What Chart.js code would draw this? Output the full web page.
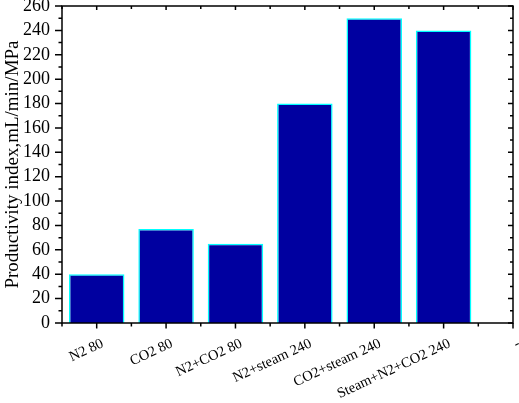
<!DOCTYPE html>
<html><head><meta charset="utf-8">
<script src="https://cdn.jsdelivr.net/npm/chart.js@4/dist/chart.umd.min.js"></script>
<style>html,body{margin:0;padding:0;background:#fff}#wrap{width:519px;height:403px}</style>
</head><body><div id="wrap"><canvas id="c" width="519" height="403"></canvas></div>
<script>
const categories = ['N2 80', 'CO2 80', 'N2+CO2 80', 'N2+steam 240', 'CO2+steam 240', 'Steam+N2+CO2 240', '-'];
const values = [40, 77, 65, 180, 250, 240];
const yTicks = [0, 20, 40, 60, 80, 100, 120, 140, 160, 180, 200, 220, 240, 260];
const yTitle = 'Productivity index,mL/min/MPa';

const FONT = "'Liberation Serif', 'Times New Roman', serif";

const framePlugin = {
  id: 'frame',
  afterDatasetsDraw(chart) {
    const { ctx, chartArea: a, scales: { x, y } } = chart;
    ctx.save();
    ctx.strokeStyle = '#000';
    ctx.lineWidth = 1.5;
    ctx.beginPath();
    yTicks.forEach((v, i) => {
      const py = y.getPixelForValue(v);
      ctx.moveTo(a.left, py); ctx.lineTo(a.left - 7, py);
      ctx.moveTo(a.right, py); ctx.lineTo(a.right - 5, py);
      if (i < yTicks.length - 1) {
        const pm = y.getPixelForValue((v + yTicks[i + 1]) / 2);
        ctx.moveTo(a.left, pm); ctx.lineTo(a.left - 3.5, pm);
        ctx.moveTo(a.right, pm); ctx.lineTo(a.right - 3, pm);
      }
    });
    categories.forEach((c, i) => {
      const px = x.getPixelForValue(i);
      ctx.moveTo(px, a.bottom); ctx.lineTo(px, a.bottom + 5.5);
      ctx.moveTo(px, a.top); ctx.lineTo(px, a.top + 4);
      const pm = x.getPixelForValue(i - 0.5);
      ctx.moveTo(pm, a.bottom); ctx.lineTo(pm, a.bottom + 3.5);
      ctx.moveTo(pm, a.top); ctx.lineTo(pm, a.top + 3);
    });
    ctx.stroke();
    ctx.strokeRect(a.left, a.top, a.right - a.left, a.bottom - a.top);
    ctx.restore();
  }
};

new Chart(document.getElementById('c'), {
  type: 'bar',
  data: {
    datasets: [{
      data: values.map((v, i) => ({ x: i, y: v })),
      backgroundColor: '#0000A0',
      borderColor: '#00FFFF',
      borderWidth: 1.5,
      borderSkipped: 'bottom',
      barPercentage: 0.8,
      categoryPercentage: 1.0
    }]
  },
  options: {
    responsive: false,
    animation: false,
    layout: { padding: { top: 6, right: 6, left: 0, bottom: 0 } },
    plugins: { legend: { display: false }, tooltip: { enabled: false } },
    scales: {
      x: {
        type: 'linear',
        offset: false,
        min: -0.5,
        max: categories.length - 1,
        grid: { display: false, drawTicks: false, offset: false },
        border: { display: false },
        afterBuildTicks(scale) { scale.ticks = categories.map((c, i) => ({ value: i })); },
        afterFit(scale) { scale.height = 80; scale.paddingLeft = 0; scale.paddingRight = 0; },
        ticks: {
          autoSkip: false,
          minRotation: 25,
          maxRotation: 25,
          padding: 12,
          labelOffset: 6,
          color: '#000',
          font: { family: FONT, size: 14.5 },
          callback: (v) => categories[v] !== undefined ? categories[v] : ''
        }
      },
      y: {
        min: 0,
        max: 260,
        grid: { display: false, drawTicks: false },
        border: { display: false },
        afterBuildTicks(scale) { scale.ticks = yTicks.map(v => ({ value: v })); },
        afterFit(scale) { scale.width = 62; scale.paddingTop = 0; scale.paddingBottom = 0; },
        ticks: {
          autoSkip: false,
          padding: 12,
          color: '#000',
          font: { family: FONT, size: 18 }
        },
        title: {
          display: true,
          text: yTitle,
          color: '#000',
          font: { family: FONT, size: 19 },
          padding: { top: 2, bottom: 0 }
        }
      }
    }
  },
  plugins: [framePlugin]
});
</script>
</body></html>
